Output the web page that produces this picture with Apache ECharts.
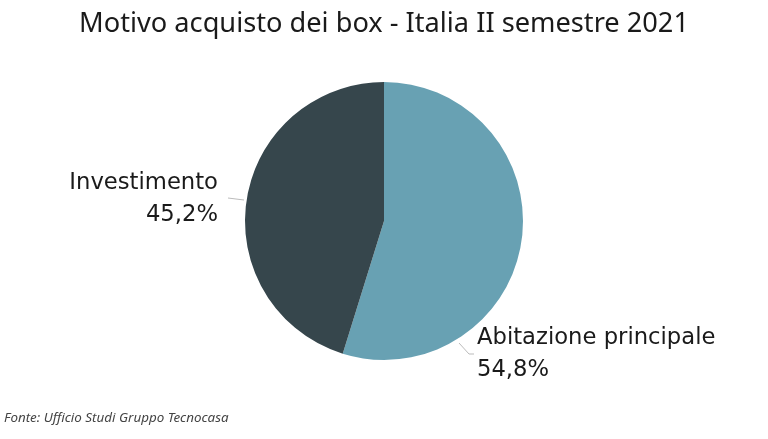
<!DOCTYPE html>
<html><head><meta charset="utf-8">
<script src="https://cdn.jsdelivr.net/npm/echarts@6/dist/echarts.min.js"></script>
<style>html,body{margin:0;padding:0;background:#fff}#c{width:768px;height:439px}</style>
</head><body><div id="c"></div>
<script>
const categories = ['Abitazione principale', 'Investimento'];
const values = [54.8, 45.2];
const colors = ['#68a1b3', '#36464c'];
const titleText = 'Motivo acquisto dei box - Italia II semestre 2021';
const sourceText = 'Fonte: Ufficio Studi Gruppo Tecnocasa';

const chart = echarts.init(document.getElementById('c'));
const fmt = v => v.toFixed(1).replace('.', ',') + '%';
chart.setOption({
  animation: false,
  title: [{
    text: titleText, left: 'center', top: 6,
    textStyle: {fontFamily: 'Noto Sans', fontWeight: 'normal', fontSize: 27.2, color: '#1a1a1a'}
  }, {
    text: sourceText, left: 0, top: 412, padding: [0, 0, 0, 4],
    textStyle: {fontFamily: 'Noto Sans', fontStyle: 'italic', fontWeight: 'normal', fontSize: 13.4, color: '#444'}
  }],
  series: [{
    type: 'pie',
    center: [384, 221],
    radius: 139,
    startAngle: 90,
    clockwise: true,
    data: categories.map((c, i) => ({name: c, value: values[i], itemStyle: {color: colors[i]}})),
    label: {
      show: true,
      overflow: 'none',
      formatter: p => p.name + '\n' + fmt(p.value),
      fontFamily: 'DejaVu Sans', fontSize: 22.7, color: '#1a1a1a', lineHeight: 32
    },
    labelLine: {show: true, lineStyle: {color: '#bbb', width: 1}},
    labelLayout: function (p) {
      if (p.dataIndex === 1) {
        return {x: 218, y: 199, align: 'right', verticalAlign: 'middle',
          labelLinePoints: [[244, 200], [236, 199], [228, 198]]};
      }
      return {x: 477, y: 354, align: 'left', verticalAlign: 'middle',
        labelLinePoints: [[459, 343], [469, 354], [474, 354]]};
    }
  }]
});
</script></body></html>
